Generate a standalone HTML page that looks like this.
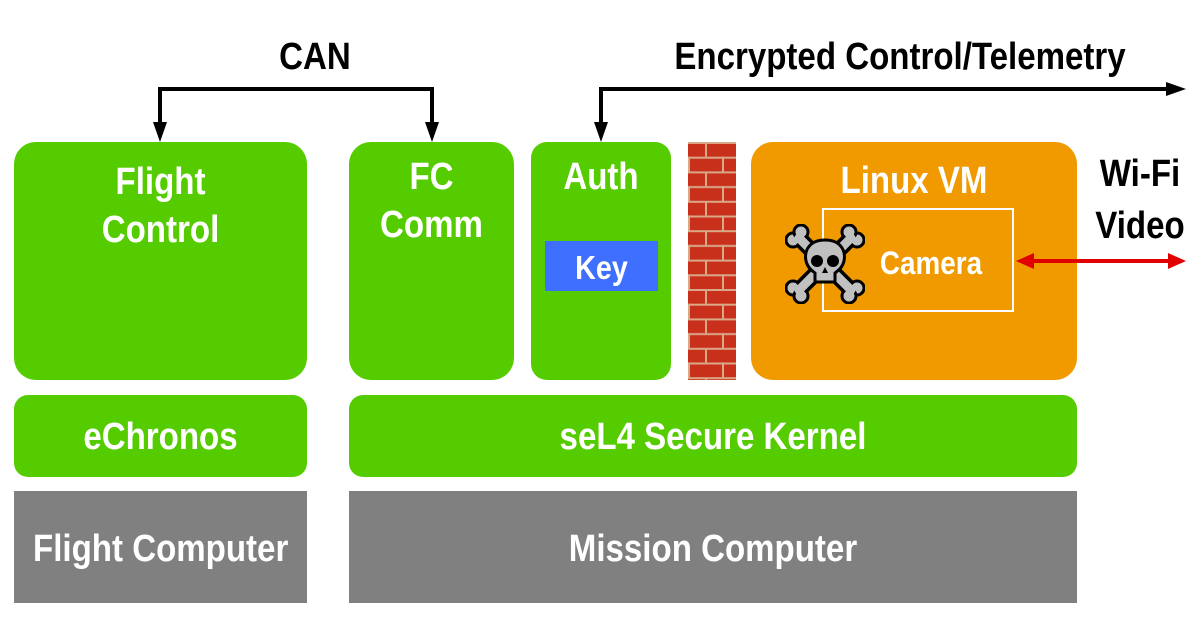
<!DOCTYPE html>
<html><head><style>
body{margin:0;width:1200px;height:621px;background:#fff;position:relative;overflow:hidden;font-family:"Liberation Sans",sans-serif;font-weight:bold;}
.b{position:absolute;box-sizing:border-box;color:#fff;text-align:center;}
.g{background:#55cc00;border-radius:22px;}
.gr{background:#808080;}
.t{position:absolute;font-size:38px;line-height:48px;white-space:nowrap;transform:scaleX(0.87);}
</style></head><body>
<div class="b g" style="left:14px;top:142px;width:293px;height:238px;"><div class="t" style="left:0;right:0;top:16px;">Flight<br>Control</div></div>
<div class="b g" style="left:349px;top:142px;width:165px;height:238px;"><div class="t" style="left:0;right:0;top:11px;">FC<br>Comm</div></div>
<div class="b g" style="left:531px;top:142px;width:140px;height:238px;border-radius:16px;"><div class="t" style="left:0;right:0;top:11px;">Auth</div></div>
<div class="b" style="left:545px;top:241px;width:113px;height:50px;background:#3f6fff;"><div class="t" style="left:0;right:0;top:3px;font-size:33px;">Key</div></div>
<svg style="position:absolute;left:688px;top:142px" width="48" height="238">
<defs><pattern id="br" width="48" height="29.4" patternUnits="userSpaceOnUse">
<rect width="48" height="29.4" fill="#c9301c"/>
<rect y="0" width="48" height="2" fill="#d8a888"/>
<rect y="14.7" width="48" height="2" fill="#d8a888"/>
<rect x="17" y="0" width="2" height="14.7" fill="#d8a888"/>
<rect x="34" y="14.7" width="2" height="14.7" fill="#d8a888"/>
<rect x="0" y="14.7" width="2" height="14.7" fill="#d8a888"/>
</pattern></defs>
<rect width="48" height="238" fill="url(#br)"/>
</svg>
<div class="b" style="left:751px;top:142px;width:326px;height:238px;background:#f09a00;border-radius:22px;"><div class="t" style="left:0;right:0;top:15px;">Linux VM</div></div>
<div class="b" style="left:822px;top:208px;width:192px;height:104px;border:2px solid #fff;"><div class="t" style="left:26px;right:0;top:29px;font-size:32px;">Camera</div></div>
<svg style="position:absolute;left:785px;top:224px" width="80" height="80" viewBox="0 0 80 80">
<g stroke-linecap="round">
<line x1="14" y1="14" x2="66" y2="66" stroke-width="16" stroke="#000"/>
<line x1="66" y1="14" x2="14" y2="66" stroke-width="16" stroke="#000"/>
</g>
<g fill="#c0c0c0" stroke="#000" stroke-width="3">
<circle cx="8" cy="16" r="7"/><circle cx="16" cy="8" r="7"/>
<circle cx="72" cy="16" r="7"/><circle cx="64" cy="8" r="7"/>
<circle cx="8" cy="64" r="7"/><circle cx="16" cy="72" r="7"/>
<circle cx="72" cy="64" r="7"/><circle cx="64" cy="72" r="7"/>
</g>
<g stroke-linecap="round">
<line x1="14" y1="14" x2="66" y2="66" stroke-width="9" stroke="#c0c0c0"/>
<line x1="66" y1="14" x2="14" y2="66" stroke-width="9" stroke="#c0c0c0"/>
</g>
<path d="M40 16 C24 16 19 27 21 37 C23 45 28 47 30 49 L30 58 L50 58 L50 49 C52 47 57 45 59 37 C61 27 56 16 40 16Z" fill="#c0c0c0" stroke="#000" stroke-width="3"/>
<circle cx="32" cy="37" r="6" fill="#000"/><circle cx="48" cy="37" r="6" fill="#000"/>
<path d="M40 43 L37 49 L43 49Z" fill="#000"/>
</svg>
<div class="b g" style="left:14px;top:395px;width:293px;height:82px;border-radius:14px;"><div class="t" style="left:0;right:0;top:18px;">eChronos</div></div>
<div class="b g" style="left:349px;top:395px;width:728px;height:82px;border-radius:14px;"><div class="t" style="left:0;right:0;top:18px;">seL4 Secure Kernel</div></div>
<div class="b gr" style="left:14px;top:491px;width:293px;height:112px;"><div class="t" style="left:0;right:0;top:34px;">Flight Computer</div></div>
<div class="b gr" style="left:349px;top:491px;width:728px;height:112px;"><div class="t" style="left:0;right:0;top:34px;">Mission Computer</div></div>
<div class="t" style="left:255px;top:33px;color:#000;width:120px;text-align:center;">CAN</div>
<div class="t" style="left:620px;top:33px;color:#000;width:560px;text-align:center;">Encrypted Control/Telemetry</div>
<div class="t" style="left:1075px;top:148px;color:#000;width:130px;text-align:center;line-height:52px;">Wi-Fi<br>Video</div>
<svg style="position:absolute;left:0;top:0" width="1200" height="621">
<g stroke="#000" stroke-width="4" fill="none">
<polyline points="160,124 160,89 432,89 432,124"/>
<polyline points="601,124 601,89 1168,89"/>
</g>
<g fill="#000">
<path d="M153,122 L167,122 L160,142Z"/><path d="M425,122 L439,122 L432,142Z"/>
<path d="M594,122 L608,122 L601,142Z"/><path d="M1166,82 L1166,96 L1186,89Z"/>
</g>
<line x1="1030" y1="261" x2="1170" y2="261" stroke="#e00000" stroke-width="4"/>
<path d="M1016,261 L1034,253 L1034,269Z M1186,261 L1168,253 L1168,269Z" fill="#e00000"/>
</svg>
</body></html>
